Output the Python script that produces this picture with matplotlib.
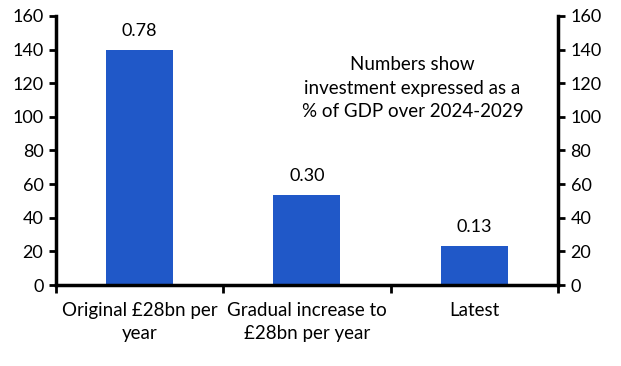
import matplotlib
matplotlib.use("Agg")
import matplotlib.pyplot as plt

# data
categories = ["Original £28bn per\nyear", "Gradual increase to\n£28bn per year", "Latest"]
values = [140, 53.5, 23.3]
gdp_share = ["0.78", "0.30", "0.13"]

plt.rcParams['font.family'] = ['Lato', 'DejaVu Sans']
plt.rcParams['font.size'] = 13

fig = plt.figure(figsize=(6.21, 3.66), dpi=100)
ax = fig.add_axes([0.090, 0.2213, 0.8086, 0.735])

x = list(range(len(categories)))
ax.bar(x, values, width=0.4, color="#2058C8", zorder=2)

for xi, v, lab in zip(x, values, gdp_share):
    ax.annotate(lab, (xi, v), xytext=(0, 8), textcoords="offset points",
                ha="center", va="bottom", fontsize=13)

ax.text(1.63, 117, "Numbers show\ninvestment expressed as a\n% of GDP over 2024-2029",
        ha="center", va="center", linespacing=1.45, fontsize=13.5)

ax.set_xlim(-0.5, len(categories) - 0.5)
ax.set_ylim(0, 160)
ax.set_yticks(range(0, 161, 20))

# category separators as major ticks, labels on minor ticks
ax.set_xticks([i - 0.5 for i in range(len(categories) + 1)])
ax.set_xticklabels([])
ax.set_xticks(x, minor=True)
ax.set_xticklabels(categories, minor=True, linespacing=1.45, fontsize=13.5)
ax.tick_params(axis="x", which="minor", length=0, pad=12)
ax.tick_params(axis="x", which="major", length=6, width=2, direction="out")
ax.tick_params(axis="y", left=True, right=True, labelleft=True, labelright=True,
               length=5, width=2, direction="out", pad=4)

for side in ["left", "right", "bottom"]:
    ax.spines[side].set_linewidth(2.5)
ax.spines["top"].set_visible(False)

fig.savefig("out.png", dpi=100)
